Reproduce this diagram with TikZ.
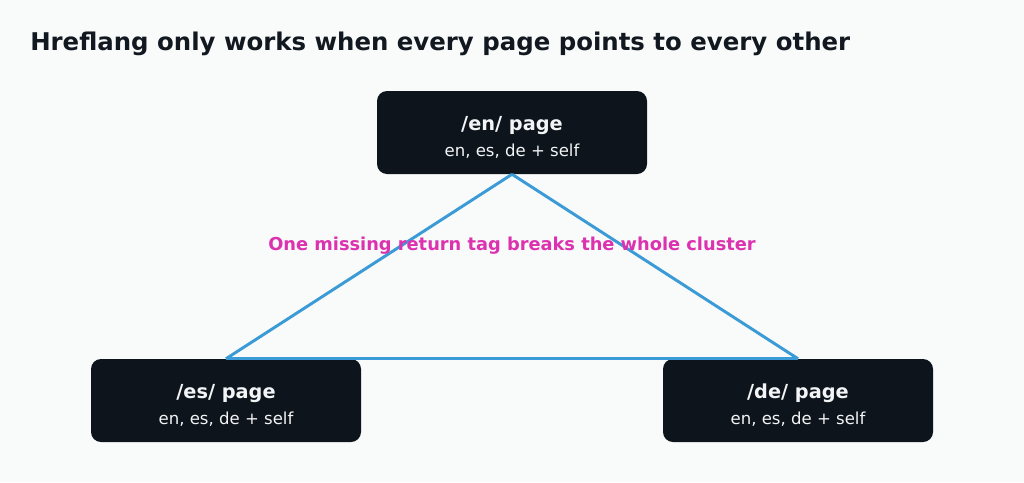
\documentclass[tikz,border=0pt]{standalone}
\usepackage{fontspec}
\setmainfont{DejaVu Sans}
\usetikzlibrary{positioning}
\definecolor{ink}{HTML}{111820}
\definecolor{cardbg}{HTML}{0D141B}
\definecolor{cardtxt}{HTML}{F3F4F6}
\definecolor{paper}{HTML}{F9FAFA}
\definecolor{linkblue}{HTML}{3A9BD6}
\definecolor{warnpink}{HTML}{DC32B0}
\newcommand{\pagetext}[1]{{\fontsize{14.5}{17}\selectfont\bfseries\rule{0pt}{18.5pt}#1}\\[6pt]{\fontsize{12.4}{14}\selectfont en, es, de + self}}
\tikzset{
  pagecard/.style={draw=none,fill=cardbg,text=cardtxt,rounded corners=7.5pt,align=center,minimum width=202.5pt,minimum height=62.25pt,inner sep=0pt},
  linkline/.style={draw=linkblue,line width=2.2pt},
  warnlabel/.style={text=warnpink,font=\fontsize{13.35}{15}\selectfont\bfseries,inner sep=0pt},
  titlelabel/.style={text=ink,font=\fontsize{18.3}{22}\selectfont\bfseries,anchor=base west,inner sep=0pt}
}

\begin{document}
\begin{tikzpicture}[x=0.75pt,y=-0.75pt]
  \fill[paper] (0,0) rectangle (1024,482);
  \useasboundingbox (0,0) rectangle (1024,482);
  \node[titlelabel] (title) at (30,50) {Hreflang only works when every page points to every other};

  \node[pagecard] (en) at (512,132.5) {\pagetext{/en/ page}};
  \node[pagecard] (es) at (226,400.5) {\pagetext{/es/ page}};
  \node[pagecard] (de) at (798,400.5) {\pagetext{/de/ page}};

  \draw[linkline] (en.south) -- (es.north);
  \draw[linkline] (en.south) -- (de.north);
  \draw[linkline] (es.north) -- (de.north);

  \node[warnlabel] (warn) at (512,246) {One missing return tag breaks the whole cluster};
\end{tikzpicture}
\end{document}
